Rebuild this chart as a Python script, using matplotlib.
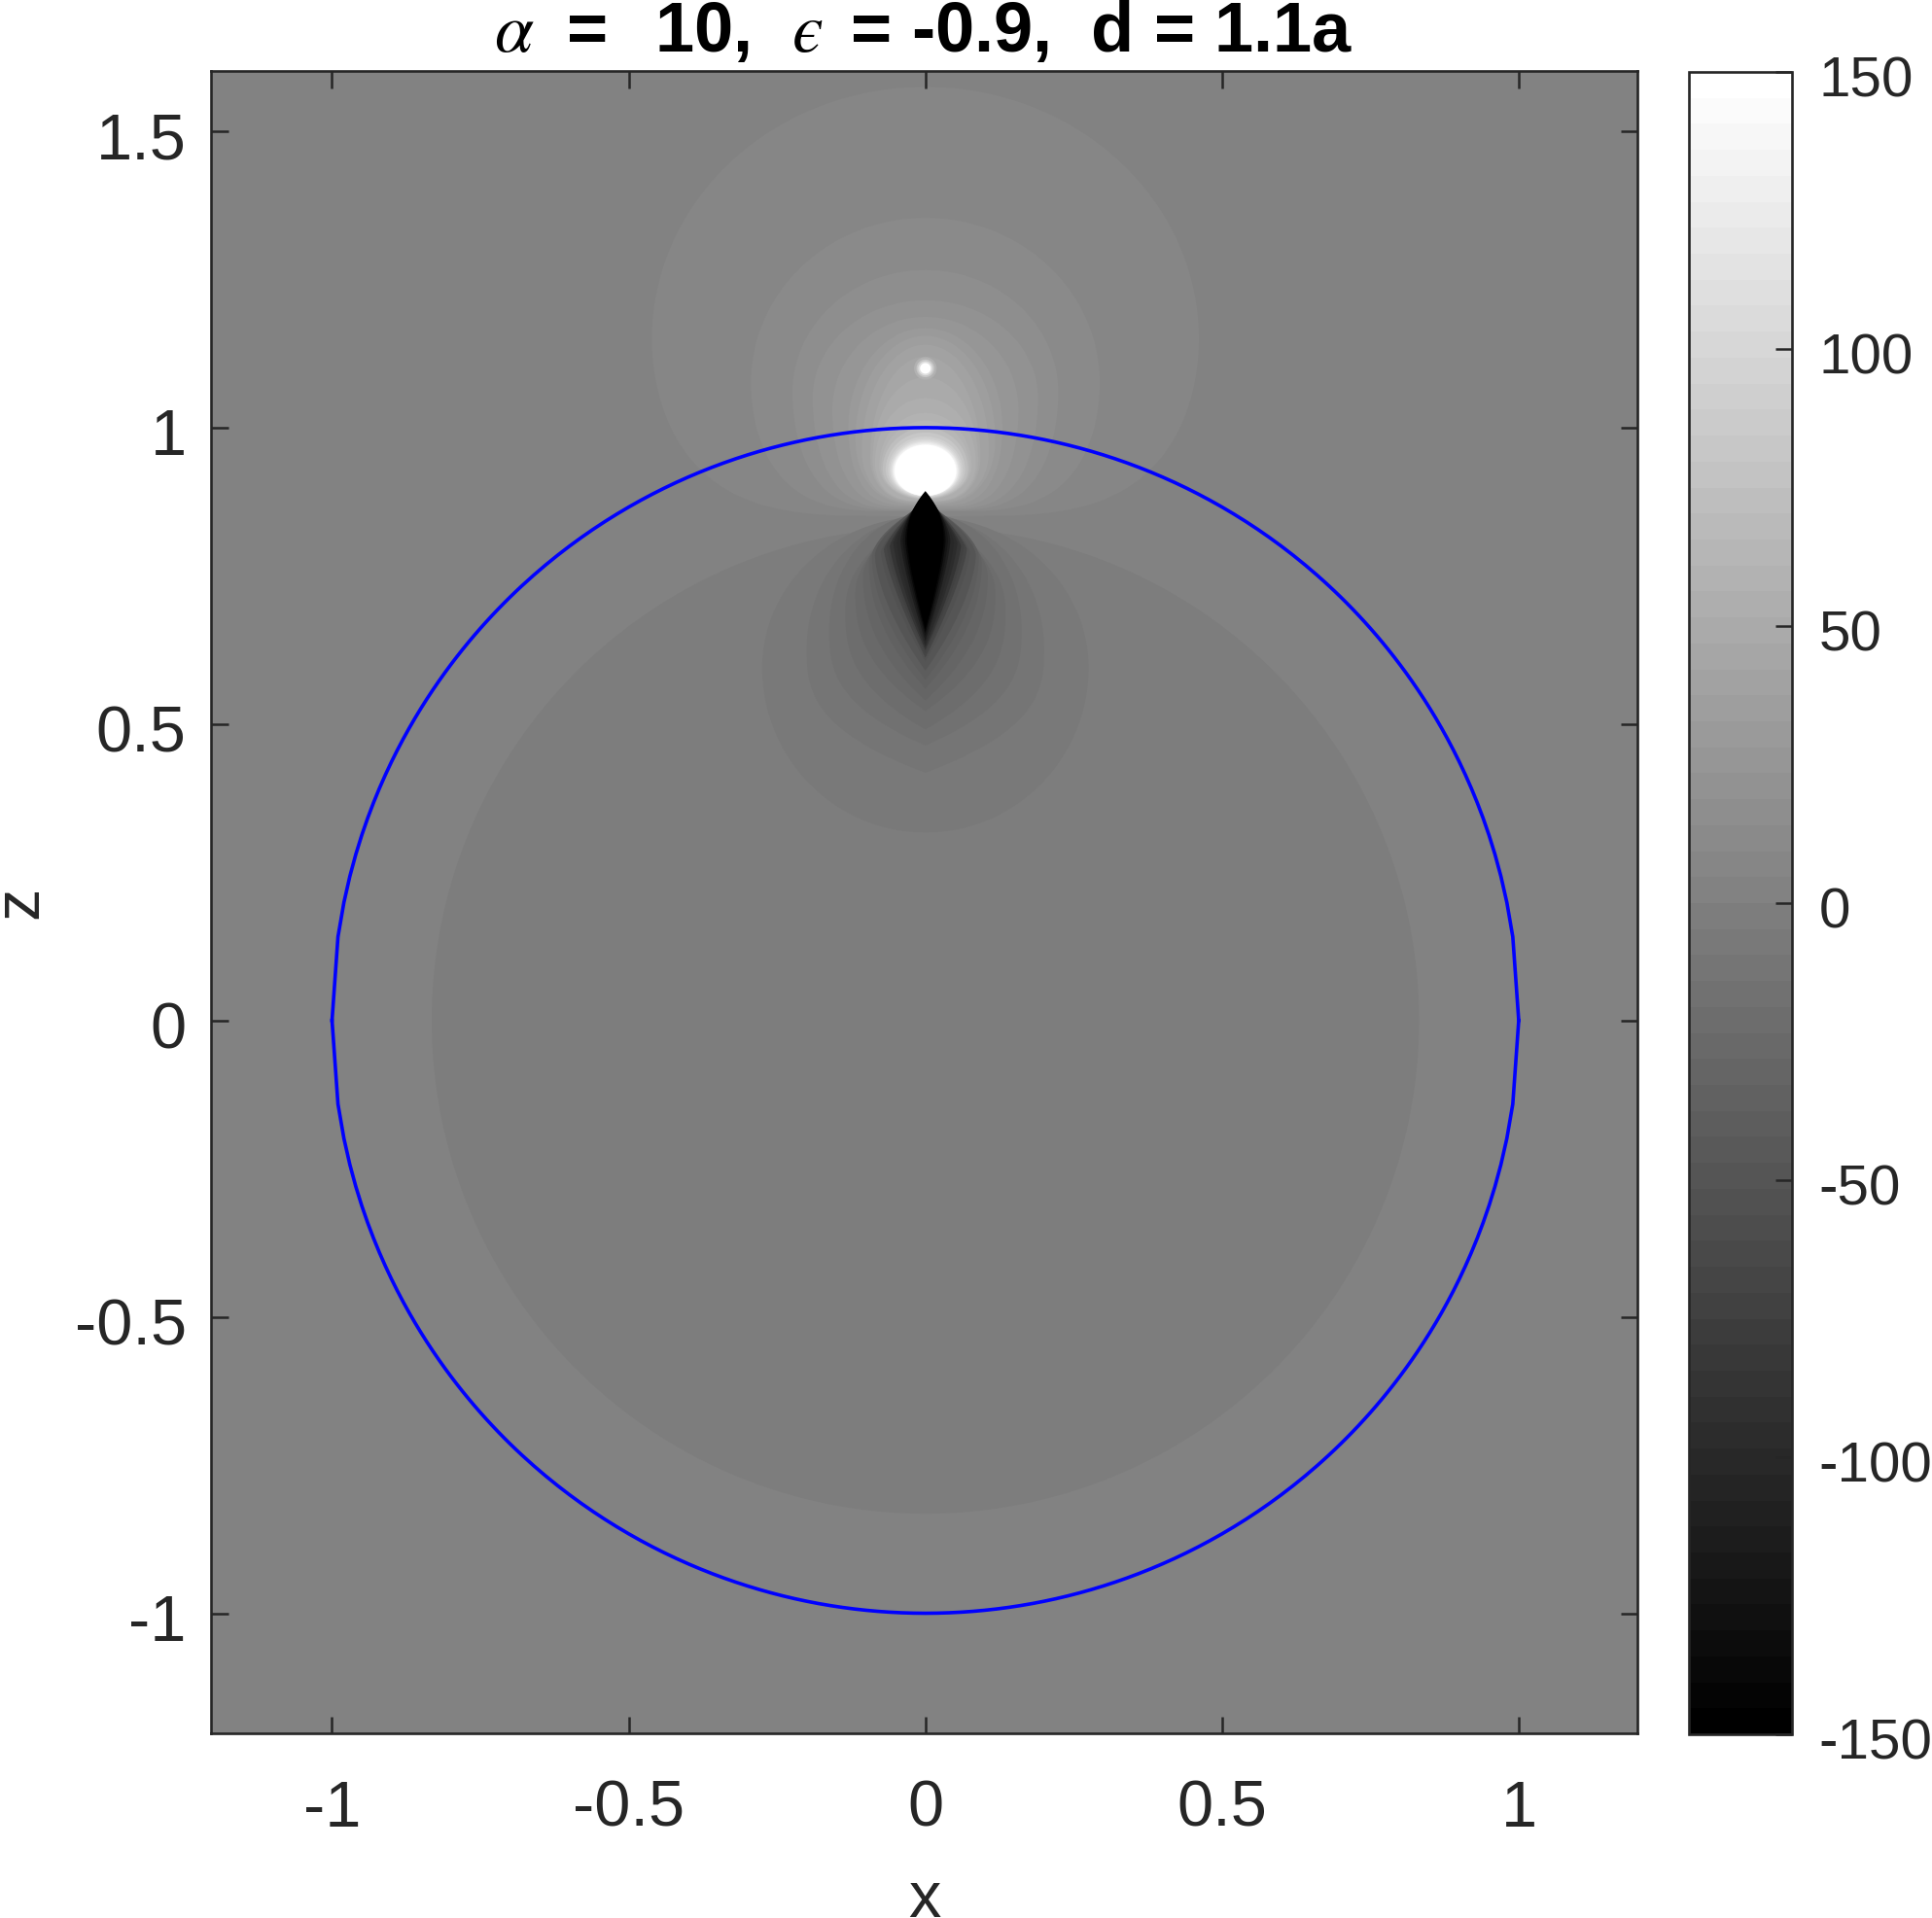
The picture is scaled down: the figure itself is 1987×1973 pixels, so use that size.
import numpy as np
import matplotlib
matplotlib.use('Agg')
import matplotlib.pyplot as plt
from matplotlib.colors import Normalize, ListedColormap
from matplotlib.cm import ScalarMappable
from matplotlib.transforms import ScaledTranslation

plt.rcParams['font.family'] = ['Liberation Sans', 'DejaVu Sans']
plt.rcParams['mathtext.fontset'] = 'stix'

W, H = 1987, 1974
INK = '#262626'

x_ticks = [-1, -0.5, 0, 0.5, 1]
x_tick_labels = ['-1', '-0.5', '0', '0.5', '1']
z_ticks = [-1, -0.5, 0, 0.5, 1, 1.5]
z_tick_labels = ['-1', '-0.5', '0', '0.5', '1', '1.5']
cbar_ticks = [-150, -100, -50, 0, 50, 100, 150]
title_text = '$\\alpha\\;$ =  $\\,$10,  $\u03f5\\,$ = -0.9,  d = 1.1a'

background_value = 2.3
disc_value = -2.3
disc_radius = 0.832

# contour rings, positive lobe above the sphere top
upper_values = [7, 12, 16, 21, 26, 30, 35, 38, 42, 45, 48, 52, 56, 60, 65, 71, 80, 91, 100, 110, 120, 130, 140, 150]
upper_tops = [1.575, 1.354, 1.266, 1.215, 1.187, 1.168, 1.155, 1.14, 1.13, 1.12, 1.085, 1.05, 1.037, 1.025, 1.012, 1.0, 0.992, 0.985, 0.981, 0.978, 0.976, 0.974, 0.972, 0.971]
upper_bottoms = [0.85, 0.858, 0.86, 0.862, 0.865, 0.868, 0.87, 0.872, 0.873, 0.874, 0.875, 0.876, 0.877, 0.878, 0.879, 0.88, 0.881, 0.882, 0.883, 0.884, 0.885, 0.885, 0.885, 0.885]
upper_widths = [0.461, 0.294, 0.224, 0.19, 0.157, 0.13, 0.118, 0.107, 0.1, 0.093, 0.089, 0.085, 0.081, 0.078, 0.075, 0.072, 0.067, 0.063, 0.06, 0.058, 0.056, 0.055, 0.053, 0.052]
upper_widest = [1.15, 1.076, 1.06, 1.05, 1.03, 1.0, 0.98, 0.96, 0.955, 0.95, 0.945, 0.94, 0.937, 0.935, 0.932, 0.93, 0.929, 0.928, 0.928, 0.927, 0.927, 0.927, 0.927, 0.927]
upper_flats = [4, 4, 4, 4, 4, 4, 3, 3, 3, 3, 3, 3, 3, 2, 2, 2, 2, 2, 2, 2, 2, 2, 2, 2]

# bright spot at the source
dot_z = 1.1
dot_values = [60, 80, 110, 150]
dot_radii = [0.019, 0.015, 0.012, 0.009]

# negative lobe under the sphere top
lower_values = [-7, -12, -16, -21, -26, -30, -35, -40, -47, -56, -66, -75, -85, -94, -103, -113, -125, -136, -147]
lower_tops = [0.85, 0.85, 0.855, 0.86, 0.862, 0.865, 0.87, 0.872, 0.875, 0.878, 0.88, 0.882, 0.884, 0.886, 0.887, 0.888, 0.89, 0.891, 0.893]
lower_bottoms = [0.317, 0.418, 0.464, 0.491, 0.522, 0.54, 0.56, 0.575, 0.59, 0.606, 0.612, 0.62, 0.625, 0.63, 0.634, 0.64, 0.648, 0.654, 0.66]
lower_widths = [0.275, 0.2, 0.162, 0.135, 0.118, 0.105, 0.095, 0.09, 0.085, 0.075, 0.07, 0.065, 0.06, 0.054, 0.048, 0.042, 0.038, 0.034, 0.031]
lower_widest = [0.595, 0.627, 0.66, 0.69, 0.72, 0.75, 0.77, 0.78, 0.785, 0.79, 0.795, 0.8, 0.8, 0.805, 0.805, 0.808, 0.808, 0.808, 0.808]
lower_tails = [0, 2.8, 2.8, 2.6, 2.4, 2.2, 2.0, 1.8, 1.6, 1.4, 1.3, 1.3, 1.3, 1.3, 1.3, 1.3, 1.3, 1.3, 1.3]
lower_heads = [0, 0, 0, 2.2, 2.0, 1.8, 1.8, 1.8, 1.6, 1.4, 1.3, 1.3, 1.3, 1.3, 1.5, 1.7, 1.9, 2.1, 2.33]

cmap = ListedColormap(plt.get_cmap('gray')(np.linspace(0, 1, 64)))
norm = Normalize(-150, 150)

u = np.linspace(0, 1, 200)


def half_width(shape):
    # shape 0 is a plain ellipse, otherwise a lens arc that ends in a point
    if shape == 0:
        return np.sqrt(1 - u**2)
    return 1 - u**shape


fig = plt.figure(figsize=(W / 200, H / 200), dpi=200)
ax = fig.add_axes([216.7 / W, 1 - 1783.5 / H, 1467 / W, 1710 / H])
ax.set_xlim(-1.2045, 1.1995)
ax.set_ylim(-1.2017, 1.6025)
ax.set_facecolor(cmap(norm(background_value)))

a = np.linspace(0, 2 * np.pi, 400)
ax.fill(disc_radius * np.cos(a), disc_radius * np.sin(a), color=cmap(norm(disc_value)), lw=0)

for v, top, bot, w, zw, fl in zip(upper_values, upper_tops, upper_bottoms, upper_widths, upper_widest, upper_flats):
    x_up = w * np.sqrt(1 - u**2)
    x_down = w * (1 - u**2)**(1 / fl)
    x = np.r_[x_up[::-1], x_down]
    z = np.r_[zw + (top - zw) * u[::-1], zw - (zw - bot) * u]
    ax.fill(np.r_[x, -x[::-1]], np.r_[z, z[::-1]], color=cmap(norm(v)), lw=0)

for v, r in zip(dot_values, dot_radii):
    ax.fill(r * np.cos(a), dot_z + r * np.sin(a), color=cmap(norm(v)), lw=0)

for v, top, bot, w, zw, tail, head in zip(lower_values, lower_tops, lower_bottoms, lower_widths,
                                          lower_widest, lower_tails, lower_heads):
    x = np.r_[w * half_width(head)[::-1], w * half_width(tail)]
    z = np.r_[zw + (top - zw) * u[::-1], zw - (zw - bot) * u]
    ax.fill(np.r_[x, -x[::-1]], np.r_[z, z[::-1]], color=cmap(norm(v)), lw=0)

# sphere outline, coarse x step gives the corners at z = 0
xs = np.arange(-100, 101) / 100
ax.plot(xs, np.sqrt(1 - xs**2), color='#0000ff', lw=1.3)
ax.plot(xs, -np.sqrt(1 - xs**2), color='#0000ff', lw=1.3)

ax.set_xticks(x_ticks, x_tick_labels)
ax.set_yticks(z_ticks, z_tick_labels)
ax.tick_params(direction='in', top=True, right=True, length=6.3, width=0.9, color=INK,
               labelcolor=INK, labelsize=24)
ax.tick_params(axis='x', pad=17)
ax.tick_params(axis='y', pad=9)
for sp in ax.spines.values():
    sp.set_linewidth(0.95)
    sp.set_color(INK)

down_a_bit = ScaledTranslation(0, -3.5 / 200, fig.dpi_scale_trans)
for lab in ax.get_yticklabels():
    lab.set_transform(lab.get_transform() + down_a_bit)

fig.text(951 / W, 1 - 1972 / H, 'x', fontsize=24, color=INK, ha='center', va='baseline')
fig.text(38 / W, 1 - 928 / H, 'z', fontsize=24, color=INK, ha='center', va='baseline',
         rotation=90, rotation_mode='anchor')
fig.text(950 / W, 1 - 53 / H, title_text, fontsize=26, fontweight='bold', color='black',
         ha='center', va='baseline')

cax = fig.add_axes([1737 / W, 1 - 1785 / H, 106 / W, 1710 / H])
cb = fig.colorbar(ScalarMappable(norm=norm, cmap=cmap), cax=cax)
cb.set_ticks(cbar_ticks, labels=[str(t) for t in cbar_ticks])
cb.ax.tick_params(direction='in', length=6.3, width=0.9, color=INK, labelcolor=INK, labelsize=21, pad=10)
cb.outline.set_linewidth(0.95)
cb.outline.set_edgecolor(INK)
for lab in cb.ax.get_yticklabels():
    lab.set_transform(lab.get_transform() + down_a_bit)

fig.savefig('out.png', dpi=200)
